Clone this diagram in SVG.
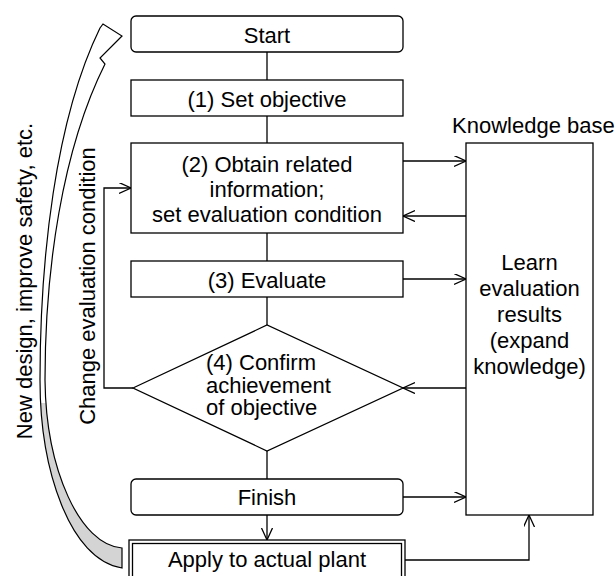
<svg xmlns="http://www.w3.org/2000/svg" width="616" height="576" viewBox="0 0 616 576">
<style>
text{font-family:"Liberation Sans",Arial,sans-serif;font-size:22px;fill:#000}
.c{text-anchor:middle}
.box{fill:#fff;stroke:#000;stroke-width:1.3}
.ln{fill:none;stroke:#000;stroke-width:1.3}
</style>
<defs>
<marker id="ah" markerUnits="userSpaceOnUse" markerWidth="14" markerHeight="13" refX="12" refY="5.5" orient="auto">
<path d="M0,0 L12,5.5 L0,11" fill="none" stroke="#000" stroke-width="1.3"/>
</marker>
<linearGradient id="rib" gradientUnits="userSpaceOnUse" x1="0" y1="0" x2="0" y2="576">
<stop offset="0" stop-color="#fff"/>
<stop offset="0.7" stop-color="#fff"/>
<stop offset="0.7" stop-color="#d4d4d4"/>
<stop offset="1" stop-color="#d4d4d4"/>
</linearGradient>
</defs>
<g id="feedback-arrow">
<path d="M122,568 C70,560 40,470 40,380 C40,260 55,120 100,28 L103,24 L122,36 L100,58 L105,64 C62,150 45,270 45,380 C46,470 80,545 122,548 Z" fill="url(#rib)" stroke="#000" stroke-width="1.2"/>
<text transform="translate(32,281) rotate(-90)" class="c">New design, improve safety, etc.</text>
</g>
<g id="connectors">
<line class="ln" x1="267" y1="52" x2="267" y2="80"/>
<line class="ln" x1="267" y1="116" x2="267" y2="143"/>
<line class="ln" x1="267" y1="233" x2="267" y2="261"/>
<line class="ln" x1="267" y1="297" x2="267" y2="325"/>
<line class="ln" x1="267" y1="451" x2="267" y2="479"/>
<line class="ln" x1="267" y1="515" x2="267" y2="540" marker-end="url(#ah)"/>
<line class="ln" x1="403" y1="161" x2="466" y2="161" marker-end="url(#ah)"/>
<line class="ln" x1="466" y1="216" x2="403" y2="216" marker-end="url(#ah)"/>
<line class="ln" x1="403" y1="279" x2="466" y2="279" marker-end="url(#ah)"/>
<line class="ln" x1="466" y1="388" x2="403" y2="388" marker-end="url(#ah)"/>
<line class="ln" x1="403" y1="497" x2="466" y2="497" marker-end="url(#ah)"/>
<polyline class="ln" points="405,560 529,560 529,515" marker-end="url(#ah)"/>
<polyline class="ln" points="133,388 104,388 104,188 131,188" marker-end="url(#ah)"/>
<text transform="translate(95,286) rotate(-90)" class="c">Change evaluation condition</text>
</g>
<g id="start">
<rect class="box" x="131" y="16" width="272" height="36" rx="5"/>
<text class="c" x="267" y="43">Start</text>
</g>
<g id="step1">
<rect class="box" x="131" y="80" width="272" height="36"/>
<text class="c" x="267" y="107">(1) Set objective</text>
</g>
<g id="step2">
<rect class="box" x="131" y="143" width="272" height="90"/>
<text class="c" x="267" y="172">(2) Obtain related</text>
<text class="c" x="267" y="196.5">information;</text>
<text class="c" x="267" y="221.5">set evaluation condition</text>
</g>
<g id="step3">
<rect class="box" x="131" y="261" width="272" height="36"/>
<text class="c" x="267" y="288">(3) Evaluate</text>
</g>
<g id="step4">
<polygon class="box" points="133,388 267,325 403,388 267,451"/>
<text x="206" y="370">(4) Confirm</text>
<text x="206" y="392.5">achievement</text>
<text x="206" y="414.5">of objective</text>
</g>
<g id="finish">
<rect class="box" x="131" y="479" width="272" height="36" rx="5"/>
<text class="c" x="267" y="505">Finish</text>
</g>
<g id="apply">
<rect class="box" x="129" y="540" width="276" height="50"/>
<rect class="box" x="132.5" y="543.5" width="269" height="43"/>
<text class="c" x="267" y="566.5">Apply to actual plant</text>
</g>
<g id="knowledge-base">
<text x="452" y="133">Knowledge base</text>
<rect class="box" x="466" y="143" width="127" height="372"/>
<text class="c" x="529.5" y="270">Learn</text>
<text class="c" x="529.5" y="296">evaluation</text>
<text class="c" x="529.5" y="322">results</text>
<text class="c" x="529.5" y="348">(expand</text>
<text class="c" x="529.5" y="374">knowledge)</text>
</g>
</svg>
